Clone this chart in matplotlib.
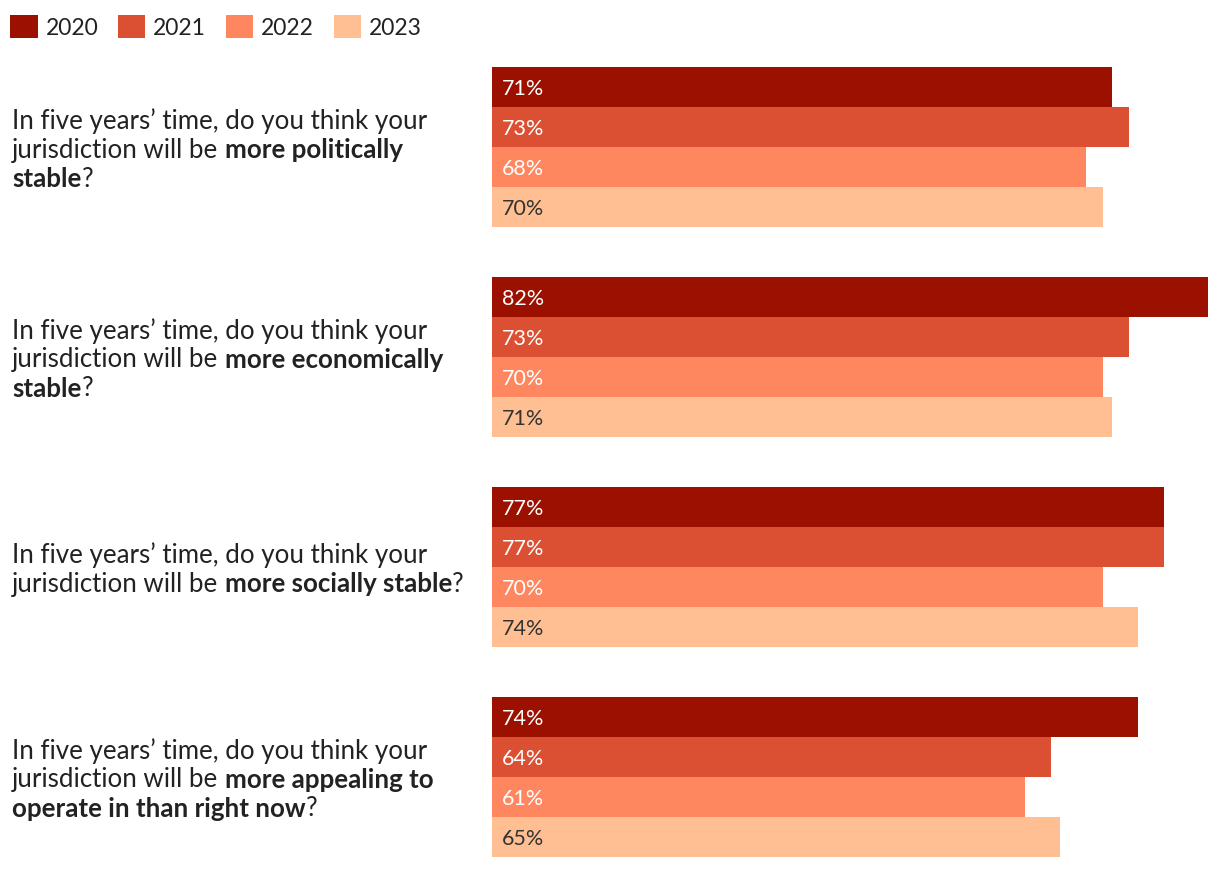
import numpy as np
import matplotlib.pyplot as plt
from matplotlib.patches import Patch

plt.rcParams['font.family'] = ['Lato', 'DejaVu Sans']

years = ["2020", "2021", "2022", "2023"]
colors = ["#9C1000", "#DB5033", "#FF875F", "#FFBF92"]
label_colors = ["white", "white", "white", "#333333"]

# question text: lines of (segment, bold)
questions = [
    [[("In five years’ time, do you think your", False)],
     [("jurisdiction will be ", False), ("more politically", True)],
     [("stable", True), ("?", False)]],
    [[("In five years’ time, do you think your", False)],
     [("jurisdiction will be ", False), ("more economically", True)],
     [("stable", True), ("?", False)]],
    [[("In five years’ time, do you think your", False)],
     [("jurisdiction will be ", False), ("more socially stable", True), ("?", False)]],
    [[("In five years’ time, do you think your", False)],
     [("jurisdiction will be ", False), ("more appealing to", True)],
     [("operate in than right now", True), ("?", False)]],
]

values = np.array([
    [71, 73, 68, 70],
    [82, 73, 70, 71],
    [77, 77, 70, 74],
    [74, 64, 61, 65],
])

W, H = 1220, 870
fig = plt.figure(figsize=(W / 100, H / 100), dpi=100)
ax = fig.add_axes([492 / W, 1 - 858 / H, (1208 - 492) / W, (858 - 68) / H])

stride = 5.25
for i in range(len(questions)):
    for j in range(len(years)):
        y = i * stride + j + 0.5
        ax.barh(y, values[i, j], height=1.0, color=colors[j])
        ax.annotate(f"{values[i, j]}%", xy=(0, y), xytext=(7, -1),
                    textcoords="offset points", va="center", ha="left",
                    fontsize=15.5, color=label_colors[j])

ax.set_xlim(0, 82)
ax.set_ylim((len(questions) - 1) * stride + 4, 0)
ax.axis("off")

# question labels with mixed weights
renderer = fig.canvas.get_renderer()
line_h = 29
for i, lines in enumerate(questions):
    yc = ax.transData.transform((0, i * stride + 2))[1] - 2
    n = len(lines)
    for k, segs in enumerate(lines):
        ypx = yc + (n - 1) / 2 * line_h - k * line_h
        xpx = 12
        for txt, bold in segs:
            t = fig.text(xpx / W, ypx / H, txt, ha="left", va="center",
                         fontsize=18.6, color="#222222",
                         fontweight="bold" if bold else "normal")
            xpx += t.get_window_extent(renderer).width

handles = [Patch(facecolor=c, edgecolor="none") for c in colors]
fig.legend(handles, years, loc="upper left", bbox_to_anchor=(10 / W, 1 - 16 / H),
           ncol=4, frameon=False, fontsize=16.5, handlelength=1.2,
           handleheight=1.2, handletextpad=0.35, columnspacing=0.85,
           borderaxespad=0, borderpad=0, labelcolor="#222222")

fig.savefig("out.png", dpi=100)
